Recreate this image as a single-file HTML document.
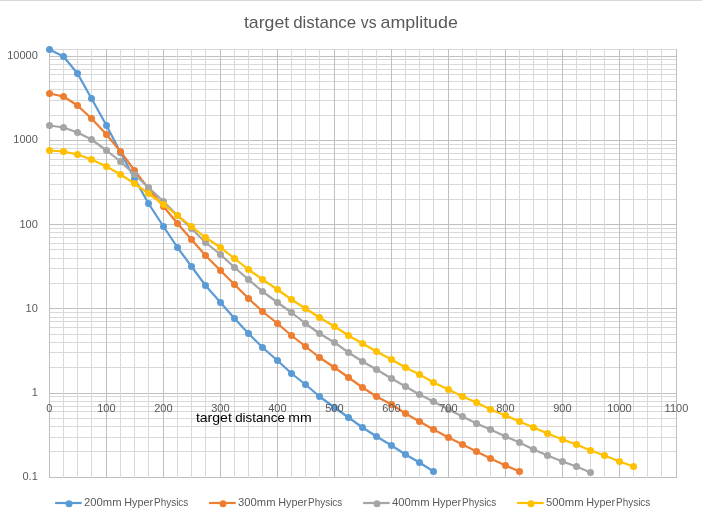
<!DOCTYPE html><html><head><meta charset="utf-8"><title>target distance vs amplitude</title>
<style>html,body{margin:0;padding:0;background:#fff;}svg{display:block;font-family:"Liberation Sans",sans-serif;will-change:transform;}</style></head><body>
<svg width="702" height="521" viewBox="0 0 702 521">
<rect x="0" y="0" width="702" height="521" fill="#fff"/>
<rect x="0" y="0" width="702" height="1" fill="#d9d9d9"/>
<g shape-rendering="crispEdges" stroke-width="1">
<line x1="49.0" y1="451.5" x2="677.0" y2="451.5" stroke="#d9d9d9"/>
<line x1="49.0" y1="437.5" x2="677.0" y2="437.5" stroke="#d9d9d9"/>
<line x1="49.0" y1="426.5" x2="677.0" y2="426.5" stroke="#d9d9d9"/>
<line x1="49.0" y1="418.5" x2="677.0" y2="418.5" stroke="#d9d9d9"/>
<line x1="49.0" y1="411.5" x2="677.0" y2="411.5" stroke="#d9d9d9"/>
<line x1="49.0" y1="406.5" x2="677.0" y2="406.5" stroke="#d9d9d9"/>
<line x1="49.0" y1="401.5" x2="677.0" y2="401.5" stroke="#d9d9d9"/>
<line x1="49.0" y1="396.5" x2="677.0" y2="396.5" stroke="#d9d9d9"/>
<line x1="49.0" y1="367.5" x2="677.0" y2="367.5" stroke="#d9d9d9"/>
<line x1="49.0" y1="352.5" x2="677.0" y2="352.5" stroke="#d9d9d9"/>
<line x1="49.0" y1="342.5" x2="677.0" y2="342.5" stroke="#d9d9d9"/>
<line x1="49.0" y1="334.5" x2="677.0" y2="334.5" stroke="#d9d9d9"/>
<line x1="49.0" y1="327.5" x2="677.0" y2="327.5" stroke="#d9d9d9"/>
<line x1="49.0" y1="321.5" x2="677.0" y2="321.5" stroke="#d9d9d9"/>
<line x1="49.0" y1="317.5" x2="677.0" y2="317.5" stroke="#d9d9d9"/>
<line x1="49.0" y1="312.5" x2="677.0" y2="312.5" stroke="#d9d9d9"/>
<line x1="49.0" y1="283.5" x2="677.0" y2="283.5" stroke="#d9d9d9"/>
<line x1="49.0" y1="268.5" x2="677.0" y2="268.5" stroke="#d9d9d9"/>
<line x1="49.0" y1="258.5" x2="677.0" y2="258.5" stroke="#d9d9d9"/>
<line x1="49.0" y1="249.5" x2="677.0" y2="249.5" stroke="#d9d9d9"/>
<line x1="49.0" y1="243.5" x2="677.0" y2="243.5" stroke="#d9d9d9"/>
<line x1="49.0" y1="237.5" x2="677.0" y2="237.5" stroke="#d9d9d9"/>
<line x1="49.0" y1="232.5" x2="677.0" y2="232.5" stroke="#d9d9d9"/>
<line x1="49.0" y1="228.5" x2="677.0" y2="228.5" stroke="#d9d9d9"/>
<line x1="49.0" y1="199.5" x2="677.0" y2="199.5" stroke="#d9d9d9"/>
<line x1="49.0" y1="184.5" x2="677.0" y2="184.5" stroke="#d9d9d9"/>
<line x1="49.0" y1="173.5" x2="677.0" y2="173.5" stroke="#d9d9d9"/>
<line x1="49.0" y1="165.5" x2="677.0" y2="165.5" stroke="#d9d9d9"/>
<line x1="49.0" y1="159.5" x2="677.0" y2="159.5" stroke="#d9d9d9"/>
<line x1="49.0" y1="153.5" x2="677.0" y2="153.5" stroke="#d9d9d9"/>
<line x1="49.0" y1="148.5" x2="677.0" y2="148.5" stroke="#d9d9d9"/>
<line x1="49.0" y1="144.5" x2="677.0" y2="144.5" stroke="#d9d9d9"/>
<line x1="49.0" y1="115.5" x2="677.0" y2="115.5" stroke="#d9d9d9"/>
<line x1="49.0" y1="100.5" x2="677.0" y2="100.5" stroke="#d9d9d9"/>
<line x1="49.0" y1="89.5" x2="677.0" y2="89.5" stroke="#d9d9d9"/>
<line x1="49.0" y1="81.5" x2="677.0" y2="81.5" stroke="#d9d9d9"/>
<line x1="49.0" y1="74.5" x2="677.0" y2="74.5" stroke="#d9d9d9"/>
<line x1="49.0" y1="69.5" x2="677.0" y2="69.5" stroke="#d9d9d9"/>
<line x1="49.0" y1="64.5" x2="677.0" y2="64.5" stroke="#d9d9d9"/>
<line x1="49.0" y1="59.5" x2="677.0" y2="59.5" stroke="#d9d9d9"/>
<line x1="49.0" y1="49.5" x2="677.0" y2="49.5" stroke="#d9d9d9"/>
<line x1="49.0" y1="477.5" x2="677.0" y2="477.5" stroke="#bfbfbf"/>
<line x1="49.0" y1="393.5" x2="677.0" y2="393.5" stroke="#bfbfbf"/>
<line x1="49.0" y1="308.5" x2="677.0" y2="308.5" stroke="#bfbfbf"/>
<line x1="49.0" y1="224.5" x2="677.0" y2="224.5" stroke="#bfbfbf"/>
<line x1="49.0" y1="140.5" x2="677.0" y2="140.5" stroke="#bfbfbf"/>
<line x1="49.0" y1="56.5" x2="677.0" y2="56.5" stroke="#bfbfbf"/>
<line x1="63.5" y1="49.0" x2="63.5" y2="478.0" stroke="#d9d9d9"/>
<line x1="77.5" y1="49.0" x2="77.5" y2="478.0" stroke="#d9d9d9"/>
<line x1="91.5" y1="49.0" x2="91.5" y2="478.0" stroke="#d9d9d9"/>
<line x1="120.5" y1="49.0" x2="120.5" y2="478.0" stroke="#d9d9d9"/>
<line x1="134.5" y1="49.0" x2="134.5" y2="478.0" stroke="#d9d9d9"/>
<line x1="148.5" y1="49.0" x2="148.5" y2="478.0" stroke="#d9d9d9"/>
<line x1="177.5" y1="49.0" x2="177.5" y2="478.0" stroke="#d9d9d9"/>
<line x1="191.5" y1="49.0" x2="191.5" y2="478.0" stroke="#d9d9d9"/>
<line x1="205.5" y1="49.0" x2="205.5" y2="478.0" stroke="#d9d9d9"/>
<line x1="234.5" y1="49.0" x2="234.5" y2="478.0" stroke="#d9d9d9"/>
<line x1="248.5" y1="49.0" x2="248.5" y2="478.0" stroke="#d9d9d9"/>
<line x1="262.5" y1="49.0" x2="262.5" y2="478.0" stroke="#d9d9d9"/>
<line x1="291.5" y1="49.0" x2="291.5" y2="478.0" stroke="#d9d9d9"/>
<line x1="305.5" y1="49.0" x2="305.5" y2="478.0" stroke="#d9d9d9"/>
<line x1="319.5" y1="49.0" x2="319.5" y2="478.0" stroke="#d9d9d9"/>
<line x1="348.5" y1="49.0" x2="348.5" y2="478.0" stroke="#d9d9d9"/>
<line x1="362.5" y1="49.0" x2="362.5" y2="478.0" stroke="#d9d9d9"/>
<line x1="376.5" y1="49.0" x2="376.5" y2="478.0" stroke="#d9d9d9"/>
<line x1="405.5" y1="49.0" x2="405.5" y2="478.0" stroke="#d9d9d9"/>
<line x1="419.5" y1="49.0" x2="419.5" y2="478.0" stroke="#d9d9d9"/>
<line x1="433.5" y1="49.0" x2="433.5" y2="478.0" stroke="#d9d9d9"/>
<line x1="462.5" y1="49.0" x2="462.5" y2="478.0" stroke="#d9d9d9"/>
<line x1="476.5" y1="49.0" x2="476.5" y2="478.0" stroke="#d9d9d9"/>
<line x1="490.5" y1="49.0" x2="490.5" y2="478.0" stroke="#d9d9d9"/>
<line x1="519.5" y1="49.0" x2="519.5" y2="478.0" stroke="#d9d9d9"/>
<line x1="533.5" y1="49.0" x2="533.5" y2="478.0" stroke="#d9d9d9"/>
<line x1="547.5" y1="49.0" x2="547.5" y2="478.0" stroke="#d9d9d9"/>
<line x1="576.5" y1="49.0" x2="576.5" y2="478.0" stroke="#d9d9d9"/>
<line x1="590.5" y1="49.0" x2="590.5" y2="478.0" stroke="#d9d9d9"/>
<line x1="604.5" y1="49.0" x2="604.5" y2="478.0" stroke="#d9d9d9"/>
<line x1="633.5" y1="49.0" x2="633.5" y2="478.0" stroke="#d9d9d9"/>
<line x1="647.5" y1="49.0" x2="647.5" y2="478.0" stroke="#d9d9d9"/>
<line x1="661.5" y1="49.0" x2="661.5" y2="478.0" stroke="#d9d9d9"/>
<line x1="49.5" y1="49.0" x2="49.5" y2="478.0" stroke="#bfbfbf"/>
<line x1="106.5" y1="49.0" x2="106.5" y2="478.0" stroke="#bfbfbf"/>
<line x1="163.5" y1="49.0" x2="163.5" y2="478.0" stroke="#bfbfbf"/>
<line x1="220.5" y1="49.0" x2="220.5" y2="478.0" stroke="#bfbfbf"/>
<line x1="277.5" y1="49.0" x2="277.5" y2="478.0" stroke="#bfbfbf"/>
<line x1="334.5" y1="49.0" x2="334.5" y2="478.0" stroke="#bfbfbf"/>
<line x1="391.5" y1="49.0" x2="391.5" y2="478.0" stroke="#bfbfbf"/>
<line x1="448.5" y1="49.0" x2="448.5" y2="478.0" stroke="#bfbfbf"/>
<line x1="505.5" y1="49.0" x2="505.5" y2="478.0" stroke="#bfbfbf"/>
<line x1="562.5" y1="49.0" x2="562.5" y2="478.0" stroke="#bfbfbf"/>
<line x1="619.5" y1="49.0" x2="619.5" y2="478.0" stroke="#bfbfbf"/>
<line x1="676.5" y1="49.0" x2="676.5" y2="478.0" stroke="#bfbfbf"/>
</g>
<text x="243.90" y="28.2" font-size="17" fill="#595959" textLength="45.30" lengthAdjust="spacingAndGlyphs">target</text>
<text x="293.20" y="28.2" font-size="17" fill="#595959" textLength="63.00" lengthAdjust="spacingAndGlyphs">distance</text>
<text x="360.80" y="28.2" font-size="17" fill="#595959" textLength="15.70" lengthAdjust="spacingAndGlyphs">vs</text>
<text x="380.50" y="28.2" font-size="17" fill="#595959" textLength="77.40" lengthAdjust="spacingAndGlyphs">amplitude</text>
<polyline points="49.50,49.50 63.50,56.50 77.50,73.50 91.50,98.50 106.50,125.50 120.50,152.50 134.50,178.50 148.50,203.50 163.50,226.50 177.50,247.50 191.50,266.50 205.50,285.50 220.50,302.50 234.50,318.50 248.50,333.50 262.50,347.50 277.50,360.50 291.50,373.50 305.50,384.50 319.50,396.50 334.50,407.50 348.50,417.50 362.50,427.50 376.50,436.50 391.50,445.50 405.50,454.50 419.50,462.50 433.50,471.50" fill="none" stroke="#5b9bd5" stroke-width="2.2" stroke-linejoin="round" stroke-linecap="round"/>
<circle cx="49.50" cy="49.50" r="3.5" fill="#5b9bd5"/>
<circle cx="63.50" cy="56.50" r="3.5" fill="#5b9bd5"/>
<circle cx="77.50" cy="73.50" r="3.5" fill="#5b9bd5"/>
<circle cx="91.50" cy="98.50" r="3.5" fill="#5b9bd5"/>
<circle cx="106.50" cy="125.50" r="3.5" fill="#5b9bd5"/>
<circle cx="120.50" cy="152.50" r="3.5" fill="#5b9bd5"/>
<circle cx="134.50" cy="178.50" r="3.5" fill="#5b9bd5"/>
<circle cx="148.50" cy="203.50" r="3.5" fill="#5b9bd5"/>
<circle cx="163.50" cy="226.50" r="3.5" fill="#5b9bd5"/>
<circle cx="177.50" cy="247.50" r="3.5" fill="#5b9bd5"/>
<circle cx="191.50" cy="266.50" r="3.5" fill="#5b9bd5"/>
<circle cx="205.50" cy="285.50" r="3.5" fill="#5b9bd5"/>
<circle cx="220.50" cy="302.50" r="3.5" fill="#5b9bd5"/>
<circle cx="234.50" cy="318.50" r="3.5" fill="#5b9bd5"/>
<circle cx="248.50" cy="333.50" r="3.5" fill="#5b9bd5"/>
<circle cx="262.50" cy="347.50" r="3.5" fill="#5b9bd5"/>
<circle cx="277.50" cy="360.50" r="3.5" fill="#5b9bd5"/>
<circle cx="291.50" cy="373.50" r="3.5" fill="#5b9bd5"/>
<circle cx="305.50" cy="384.50" r="3.5" fill="#5b9bd5"/>
<circle cx="319.50" cy="396.50" r="3.5" fill="#5b9bd5"/>
<circle cx="334.50" cy="407.50" r="3.5" fill="#5b9bd5"/>
<circle cx="348.50" cy="417.50" r="3.5" fill="#5b9bd5"/>
<circle cx="362.50" cy="427.50" r="3.5" fill="#5b9bd5"/>
<circle cx="376.50" cy="436.50" r="3.5" fill="#5b9bd5"/>
<circle cx="391.50" cy="445.50" r="3.5" fill="#5b9bd5"/>
<circle cx="405.50" cy="454.50" r="3.5" fill="#5b9bd5"/>
<circle cx="419.50" cy="462.50" r="3.5" fill="#5b9bd5"/>
<circle cx="433.50" cy="471.50" r="3.5" fill="#5b9bd5"/>
<polyline points="49.50,93.50 63.50,96.50 77.50,105.50 91.50,118.50 106.50,134.50 120.50,151.50 134.50,170.50 148.50,188.50 163.50,206.50 177.50,223.50 191.50,239.50 205.50,255.50 220.50,270.50 234.50,284.50 248.50,298.50 262.50,311.50 277.50,323.50 291.50,335.50 305.50,346.50 319.50,357.50 334.50,367.50 348.50,377.50 362.50,387.50 376.50,396.50 391.50,404.50 405.50,413.50 419.50,421.50 433.50,429.50 448.50,437.50 462.50,444.50 476.50,451.50 490.50,458.50 505.50,465.50 519.50,471.50" fill="none" stroke="#ed7d31" stroke-width="2.2" stroke-linejoin="round" stroke-linecap="round"/>
<circle cx="49.50" cy="93.50" r="3.5" fill="#ed7d31"/>
<circle cx="63.50" cy="96.50" r="3.5" fill="#ed7d31"/>
<circle cx="77.50" cy="105.50" r="3.5" fill="#ed7d31"/>
<circle cx="91.50" cy="118.50" r="3.5" fill="#ed7d31"/>
<circle cx="106.50" cy="134.50" r="3.5" fill="#ed7d31"/>
<circle cx="120.50" cy="151.50" r="3.5" fill="#ed7d31"/>
<circle cx="134.50" cy="170.50" r="3.5" fill="#ed7d31"/>
<circle cx="148.50" cy="188.50" r="3.5" fill="#ed7d31"/>
<circle cx="163.50" cy="206.50" r="3.5" fill="#ed7d31"/>
<circle cx="177.50" cy="223.50" r="3.5" fill="#ed7d31"/>
<circle cx="191.50" cy="239.50" r="3.5" fill="#ed7d31"/>
<circle cx="205.50" cy="255.50" r="3.5" fill="#ed7d31"/>
<circle cx="220.50" cy="270.50" r="3.5" fill="#ed7d31"/>
<circle cx="234.50" cy="284.50" r="3.5" fill="#ed7d31"/>
<circle cx="248.50" cy="298.50" r="3.5" fill="#ed7d31"/>
<circle cx="262.50" cy="311.50" r="3.5" fill="#ed7d31"/>
<circle cx="277.50" cy="323.50" r="3.5" fill="#ed7d31"/>
<circle cx="291.50" cy="335.50" r="3.5" fill="#ed7d31"/>
<circle cx="305.50" cy="346.50" r="3.5" fill="#ed7d31"/>
<circle cx="319.50" cy="357.50" r="3.5" fill="#ed7d31"/>
<circle cx="334.50" cy="367.50" r="3.5" fill="#ed7d31"/>
<circle cx="348.50" cy="377.50" r="3.5" fill="#ed7d31"/>
<circle cx="362.50" cy="387.50" r="3.5" fill="#ed7d31"/>
<circle cx="376.50" cy="396.50" r="3.5" fill="#ed7d31"/>
<circle cx="391.50" cy="404.50" r="3.5" fill="#ed7d31"/>
<circle cx="405.50" cy="413.50" r="3.5" fill="#ed7d31"/>
<circle cx="419.50" cy="421.50" r="3.5" fill="#ed7d31"/>
<circle cx="433.50" cy="429.50" r="3.5" fill="#ed7d31"/>
<circle cx="448.50" cy="437.50" r="3.5" fill="#ed7d31"/>
<circle cx="462.50" cy="444.50" r="3.5" fill="#ed7d31"/>
<circle cx="476.50" cy="451.50" r="3.5" fill="#ed7d31"/>
<circle cx="490.50" cy="458.50" r="3.5" fill="#ed7d31"/>
<circle cx="505.50" cy="465.50" r="3.5" fill="#ed7d31"/>
<circle cx="519.50" cy="471.50" r="3.5" fill="#ed7d31"/>
<polyline points="49.50,125.50 63.50,127.50 77.50,132.50 91.50,139.50 106.50,150.50 120.50,161.50 134.50,174.50 148.50,187.50 163.50,201.50 177.50,215.50 191.50,228.50 205.50,242.50 220.50,254.50 234.50,267.50 248.50,279.50 262.50,291.50 277.50,302.50 291.50,312.50 305.50,323.50 319.50,333.50 334.50,342.50 348.50,352.50 362.50,361.50 376.50,369.50 391.50,378.50 405.50,386.50 419.50,394.50 433.50,401.50 448.50,409.50 462.50,416.50 476.50,423.50 490.50,429.50 505.50,436.50 519.50,442.50 533.50,449.50 547.50,455.50 562.50,461.50 576.50,466.50 590.50,472.50" fill="none" stroke="#a5a5a5" stroke-width="2.2" stroke-linejoin="round" stroke-linecap="round"/>
<circle cx="49.50" cy="125.50" r="3.5" fill="#a5a5a5"/>
<circle cx="63.50" cy="127.50" r="3.5" fill="#a5a5a5"/>
<circle cx="77.50" cy="132.50" r="3.5" fill="#a5a5a5"/>
<circle cx="91.50" cy="139.50" r="3.5" fill="#a5a5a5"/>
<circle cx="106.50" cy="150.50" r="3.5" fill="#a5a5a5"/>
<circle cx="120.50" cy="161.50" r="3.5" fill="#a5a5a5"/>
<circle cx="134.50" cy="174.50" r="3.5" fill="#a5a5a5"/>
<circle cx="148.50" cy="187.50" r="3.5" fill="#a5a5a5"/>
<circle cx="163.50" cy="201.50" r="3.5" fill="#a5a5a5"/>
<circle cx="177.50" cy="215.50" r="3.5" fill="#a5a5a5"/>
<circle cx="191.50" cy="228.50" r="3.5" fill="#a5a5a5"/>
<circle cx="205.50" cy="242.50" r="3.5" fill="#a5a5a5"/>
<circle cx="220.50" cy="254.50" r="3.5" fill="#a5a5a5"/>
<circle cx="234.50" cy="267.50" r="3.5" fill="#a5a5a5"/>
<circle cx="248.50" cy="279.50" r="3.5" fill="#a5a5a5"/>
<circle cx="262.50" cy="291.50" r="3.5" fill="#a5a5a5"/>
<circle cx="277.50" cy="302.50" r="3.5" fill="#a5a5a5"/>
<circle cx="291.50" cy="312.50" r="3.5" fill="#a5a5a5"/>
<circle cx="305.50" cy="323.50" r="3.5" fill="#a5a5a5"/>
<circle cx="319.50" cy="333.50" r="3.5" fill="#a5a5a5"/>
<circle cx="334.50" cy="342.50" r="3.5" fill="#a5a5a5"/>
<circle cx="348.50" cy="352.50" r="3.5" fill="#a5a5a5"/>
<circle cx="362.50" cy="361.50" r="3.5" fill="#a5a5a5"/>
<circle cx="376.50" cy="369.50" r="3.5" fill="#a5a5a5"/>
<circle cx="391.50" cy="378.50" r="3.5" fill="#a5a5a5"/>
<circle cx="405.50" cy="386.50" r="3.5" fill="#a5a5a5"/>
<circle cx="419.50" cy="394.50" r="3.5" fill="#a5a5a5"/>
<circle cx="433.50" cy="401.50" r="3.5" fill="#a5a5a5"/>
<circle cx="448.50" cy="409.50" r="3.5" fill="#a5a5a5"/>
<circle cx="462.50" cy="416.50" r="3.5" fill="#a5a5a5"/>
<circle cx="476.50" cy="423.50" r="3.5" fill="#a5a5a5"/>
<circle cx="490.50" cy="429.50" r="3.5" fill="#a5a5a5"/>
<circle cx="505.50" cy="436.50" r="3.5" fill="#a5a5a5"/>
<circle cx="519.50" cy="442.50" r="3.5" fill="#a5a5a5"/>
<circle cx="533.50" cy="449.50" r="3.5" fill="#a5a5a5"/>
<circle cx="547.50" cy="455.50" r="3.5" fill="#a5a5a5"/>
<circle cx="562.50" cy="461.50" r="3.5" fill="#a5a5a5"/>
<circle cx="576.50" cy="466.50" r="3.5" fill="#a5a5a5"/>
<circle cx="590.50" cy="472.50" r="3.5" fill="#a5a5a5"/>
<polyline points="49.50,150.50 63.50,151.50 77.50,154.50 91.50,159.50 106.50,166.50 120.50,174.50 134.50,183.50 148.50,193.50 163.50,204.50 177.50,215.50 191.50,226.50 205.50,237.50 220.50,247.50 234.50,258.50 248.50,269.50 262.50,279.50 277.50,289.50 291.50,299.50 305.50,308.50 319.50,317.50 334.50,326.50 348.50,335.50 362.50,343.50 376.50,351.50 391.50,359.50 405.50,367.50 419.50,374.50 433.50,382.50 448.50,389.50 462.50,396.50 476.50,402.50 490.50,409.50 505.50,415.50 519.50,421.50 533.50,427.50 547.50,433.50 562.50,439.50 576.50,444.50 590.50,450.50 604.50,455.50 619.50,461.50 633.50,466.50" fill="none" stroke="#ffc000" stroke-width="2.2" stroke-linejoin="round" stroke-linecap="round"/>
<circle cx="49.50" cy="150.50" r="3.5" fill="#ffc000"/>
<circle cx="63.50" cy="151.50" r="3.5" fill="#ffc000"/>
<circle cx="77.50" cy="154.50" r="3.5" fill="#ffc000"/>
<circle cx="91.50" cy="159.50" r="3.5" fill="#ffc000"/>
<circle cx="106.50" cy="166.50" r="3.5" fill="#ffc000"/>
<circle cx="120.50" cy="174.50" r="3.5" fill="#ffc000"/>
<circle cx="134.50" cy="183.50" r="3.5" fill="#ffc000"/>
<circle cx="148.50" cy="193.50" r="3.5" fill="#ffc000"/>
<circle cx="163.50" cy="204.50" r="3.5" fill="#ffc000"/>
<circle cx="177.50" cy="215.50" r="3.5" fill="#ffc000"/>
<circle cx="191.50" cy="226.50" r="3.5" fill="#ffc000"/>
<circle cx="205.50" cy="237.50" r="3.5" fill="#ffc000"/>
<circle cx="220.50" cy="247.50" r="3.5" fill="#ffc000"/>
<circle cx="234.50" cy="258.50" r="3.5" fill="#ffc000"/>
<circle cx="248.50" cy="269.50" r="3.5" fill="#ffc000"/>
<circle cx="262.50" cy="279.50" r="3.5" fill="#ffc000"/>
<circle cx="277.50" cy="289.50" r="3.5" fill="#ffc000"/>
<circle cx="291.50" cy="299.50" r="3.5" fill="#ffc000"/>
<circle cx="305.50" cy="308.50" r="3.5" fill="#ffc000"/>
<circle cx="319.50" cy="317.50" r="3.5" fill="#ffc000"/>
<circle cx="334.50" cy="326.50" r="3.5" fill="#ffc000"/>
<circle cx="348.50" cy="335.50" r="3.5" fill="#ffc000"/>
<circle cx="362.50" cy="343.50" r="3.5" fill="#ffc000"/>
<circle cx="376.50" cy="351.50" r="3.5" fill="#ffc000"/>
<circle cx="391.50" cy="359.50" r="3.5" fill="#ffc000"/>
<circle cx="405.50" cy="367.50" r="3.5" fill="#ffc000"/>
<circle cx="419.50" cy="374.50" r="3.5" fill="#ffc000"/>
<circle cx="433.50" cy="382.50" r="3.5" fill="#ffc000"/>
<circle cx="448.50" cy="389.50" r="3.5" fill="#ffc000"/>
<circle cx="462.50" cy="396.50" r="3.5" fill="#ffc000"/>
<circle cx="476.50" cy="402.50" r="3.5" fill="#ffc000"/>
<circle cx="490.50" cy="409.50" r="3.5" fill="#ffc000"/>
<circle cx="505.50" cy="415.50" r="3.5" fill="#ffc000"/>
<circle cx="519.50" cy="421.50" r="3.5" fill="#ffc000"/>
<circle cx="533.50" cy="427.50" r="3.5" fill="#ffc000"/>
<circle cx="547.50" cy="433.50" r="3.5" fill="#ffc000"/>
<circle cx="562.50" cy="439.50" r="3.5" fill="#ffc000"/>
<circle cx="576.50" cy="444.50" r="3.5" fill="#ffc000"/>
<circle cx="590.50" cy="450.50" r="3.5" fill="#ffc000"/>
<circle cx="604.50" cy="455.50" r="3.5" fill="#ffc000"/>
<circle cx="619.50" cy="461.50" r="3.5" fill="#ffc000"/>
<circle cx="633.50" cy="466.50" r="3.5" fill="#ffc000"/>
<text x="37.8" y="59.23" font-size="11" fill="#595959" text-anchor="end">10000</text>
<text x="37.8" y="143.47" font-size="11" fill="#595959" text-anchor="end">1000</text>
<text x="37.8" y="227.72" font-size="11" fill="#595959" text-anchor="end">100</text>
<text x="37.8" y="311.97" font-size="11" fill="#595959" text-anchor="end">10</text>
<text x="37.8" y="396.21" font-size="11" fill="#595959" text-anchor="end">1</text>
<text x="37.8" y="480.46" font-size="11" fill="#595959" text-anchor="end">0.1</text>
<text x="49.43" y="411.7" font-size="11" fill="#595959" text-anchor="middle">0</text>
<text x="106.43" y="411.7" font-size="11" fill="#595959" text-anchor="middle">100</text>
<text x="163.43" y="411.7" font-size="11" fill="#595959" text-anchor="middle">200</text>
<text x="220.43" y="411.7" font-size="11" fill="#595959" text-anchor="middle">300</text>
<text x="277.43" y="411.7" font-size="11" fill="#595959" text-anchor="middle">400</text>
<text x="334.43" y="411.7" font-size="11" fill="#595959" text-anchor="middle">500</text>
<text x="391.43" y="411.7" font-size="11" fill="#595959" text-anchor="middle">600</text>
<text x="448.43" y="411.7" font-size="11" fill="#595959" text-anchor="middle">700</text>
<text x="505.43" y="411.7" font-size="11" fill="#595959" text-anchor="middle">800</text>
<text x="562.43" y="411.7" font-size="11" fill="#595959" text-anchor="middle">900</text>
<text x="619.43" y="411.7" font-size="11" fill="#595959" text-anchor="middle">1000</text>
<text x="676.43" y="411.7" font-size="11" fill="#595959" text-anchor="middle">1100</text>
<text x="195.90" y="421.8" font-size="13.3" fill="#000" textLength="35.90" lengthAdjust="spacingAndGlyphs">target</text>
<text x="235.20" y="421.8" font-size="13.3" fill="#000" textLength="49.70" lengthAdjust="spacingAndGlyphs">distance</text>
<text x="288.30" y="421.8" font-size="13.3" fill="#000" textLength="23.40" lengthAdjust="spacingAndGlyphs">mm</text>
<line x1="55.10" y1="503" x2="81.70" y2="503" stroke="#5b9bd5" stroke-width="2.2"/>
<circle cx="69.00" cy="503.85" r="3.5" fill="#5b9bd5"/>
<text x="84.10" y="506.1" font-size="10.8" fill="#595959" textLength="37.5" lengthAdjust="spacingAndGlyphs">200mm</text>
<text x="124.30" y="506.1" font-size="10.8" fill="#595959" textLength="28.9" lengthAdjust="spacingAndGlyphs">Hyper</text>
<text x="154.10" y="506.1" font-size="10.8" fill="#595959" textLength="34.2" lengthAdjust="spacingAndGlyphs">Physics</text>
<line x1="209.10" y1="503" x2="235.70" y2="503" stroke="#ed7d31" stroke-width="2.2"/>
<circle cx="223.00" cy="503.85" r="3.5" fill="#ed7d31"/>
<text x="238.10" y="506.1" font-size="10.8" fill="#595959" textLength="37.5" lengthAdjust="spacingAndGlyphs">300mm</text>
<text x="278.30" y="506.1" font-size="10.8" fill="#595959" textLength="28.9" lengthAdjust="spacingAndGlyphs">Hyper</text>
<text x="308.10" y="506.1" font-size="10.8" fill="#595959" textLength="34.2" lengthAdjust="spacingAndGlyphs">Physics</text>
<line x1="363.10" y1="503" x2="389.70" y2="503" stroke="#a5a5a5" stroke-width="2.2"/>
<circle cx="377.00" cy="503.85" r="3.5" fill="#a5a5a5"/>
<text x="392.10" y="506.1" font-size="10.8" fill="#595959" textLength="37.5" lengthAdjust="spacingAndGlyphs">400mm</text>
<text x="432.30" y="506.1" font-size="10.8" fill="#595959" textLength="28.9" lengthAdjust="spacingAndGlyphs">Hyper</text>
<text x="462.10" y="506.1" font-size="10.8" fill="#595959" textLength="34.2" lengthAdjust="spacingAndGlyphs">Physics</text>
<line x1="517.10" y1="503" x2="543.70" y2="503" stroke="#ffc000" stroke-width="2.2"/>
<circle cx="531.00" cy="503.85" r="3.5" fill="#ffc000"/>
<text x="546.10" y="506.1" font-size="10.8" fill="#595959" textLength="37.5" lengthAdjust="spacingAndGlyphs">500mm</text>
<text x="586.30" y="506.1" font-size="10.8" fill="#595959" textLength="28.9" lengthAdjust="spacingAndGlyphs">Hyper</text>
<text x="616.10" y="506.1" font-size="10.8" fill="#595959" textLength="34.2" lengthAdjust="spacingAndGlyphs">Physics</text>
</svg></body></html>
